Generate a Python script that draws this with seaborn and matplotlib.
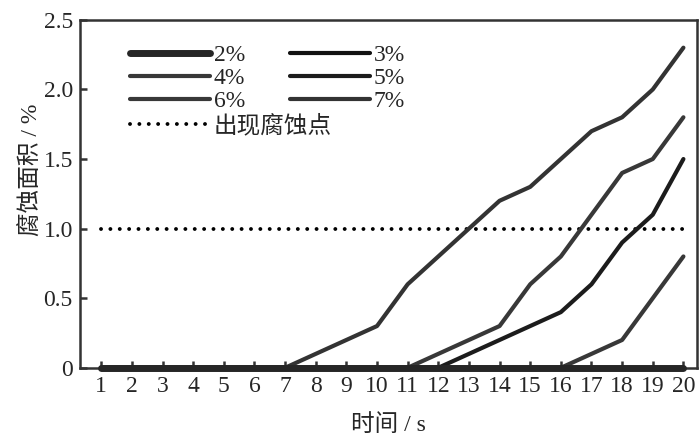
import numpy as np
import pandas as pd
import matplotlib
matplotlib.use('Agg')
import matplotlib.pyplot as plt
import seaborn as sns
from matplotlib.lines import Line2D

# time steps (s)
t = list(range(1, 21))

# corrosion area (%)
c2 = [0] * 20
c3 = [0] * 20
c4 = [0, 0, 0, 0, 0, 0, 0, 0, 0, 0, 0, 0, 0, 0, 0, 0, 0.1, 0.2, 0.5, 0.8]
c5 = [0, 0, 0, 0, 0, 0, 0, 0, 0, 0, 0, 0, 0.1, 0.2, 0.3, 0.4, 0.6, 0.9, 1.1, 1.5]
c6 = [0, 0, 0, 0, 0, 0, 0, 0, 0, 0, 0, 0.1, 0.2, 0.3, 0.6, 0.8, 1.1, 1.4, 1.5, 1.8]
c7 = [0, 0, 0, 0, 0, 0, 0, 0.1, 0.2, 0.3, 0.6, 0.8, 1.0, 1.2, 1.3, 1.5, 1.7, 1.8, 2.0, 2.3]
labels = ['2%', '3%', '4%', '5%', '6%', '7%']
threshold = 1.0
threshold_label = '出现腐蚀点'

df = pd.DataFrame({'t': t * 6,
                   'area': c2 + c3 + c4 + c5 + c6 + c7,
                   'conc': [l for l in labels for _ in t]})

sns.set_theme(style='white')
plt.rcParams['font.family'] = ['Liberation Serif', 'Noto Sans CJK SC']
plt.rcParams['axes.unicode_minus'] = False

colors = {'2%': '#262626', '3%': '#111111', '4%': '#383838',
          '5%': '#1c1c1c', '6%': '#383838', '7%': '#333333'}
widths = {'2%': 5.0, '3%': 3.0, '4%': 3.0, '5%': 3.0, '6%': 3.0, '7%': 3.0}
dot_style = (0, (0.01, 2.4))
dot_lw = 2.8

fig = plt.figure(figsize=(7, 4.41), dpi=100)
ax = fig.add_axes([0.114, 0.166, 0.882, 0.789])

# draw lines in reverse so the thick 2% line sits on top at zero
for lab in labels[::-1]:
    sub = df[df.conc == lab]
    sns.lineplot(data=sub, x='t', y='area', ax=ax, color=colors[lab],
                 lw=widths[lab], solid_capstyle='round', clip_on=False,
                 zorder=3 if lab != '2%' else 4, legend=False)

ax.plot([t[0], t[-1]], [threshold, threshold], color='black', lw=dot_lw,
        ls=dot_style, dash_capstyle='round', zorder=2)

ax.set_xlim(0.3, 20.45)
ax.set_ylim(0, 2.5)
ax.set_xticks(t)
ax.set_yticks([0, 0.5, 1.0, 1.5, 2.0, 2.5])
ax.set_yticklabels(['0', '0.5', '1.0', '1.5', '2.0', '2.5'])
ax.tick_params(axis='both', direction='in', length=5, width=1.8,
               color='#333333', labelsize=17, pad=5,
               top=False, right=False, bottom=True, left=True)
ax.tick_params(axis='x', pad=6)
for sp in ax.spines.values():
    sp.set_color('#333333')
    sp.set_linewidth(1.8)
    sp.set_visible(True)

ax.set_xlabel('时间 / s', fontsize=17)
ax.set_ylabel('腐蚀面积 / %', fontsize=17)
ax.xaxis.set_label_coords(0.5, -0.132)
ax.yaxis.set_label_coords(-0.06, 0.57)

h = {lab: Line2D([], [], color=colors[lab], lw=widths[lab],
                 solid_capstyle='round') for lab in labels}
hd = Line2D([], [], color='black', lw=dot_lw, ls=dot_style,
            dash_capstyle='round')
leg_kw = dict(frameon=False, fontsize=17, handlelength=3.4,
              handletextpad=0.15, labelspacing=0.05, borderaxespad=0.0,
              loc='upper left')
# matplotlib fills legend columns first, so order for row-wise reading
order = ['2%', '4%', '6%', '3%', '5%', '7%']
leg1 = ax.legend([h[l] for l in order], order, ncol=2,
                 bbox_to_anchor=(0.066, 0.955), columnspacing=1.9, **leg_kw)
ax.add_artist(leg1)
ax.legend([hd], [threshold_label], bbox_to_anchor=(0.066, 0.755), **leg_kw)

fig.savefig('out.png', dpi=100)
